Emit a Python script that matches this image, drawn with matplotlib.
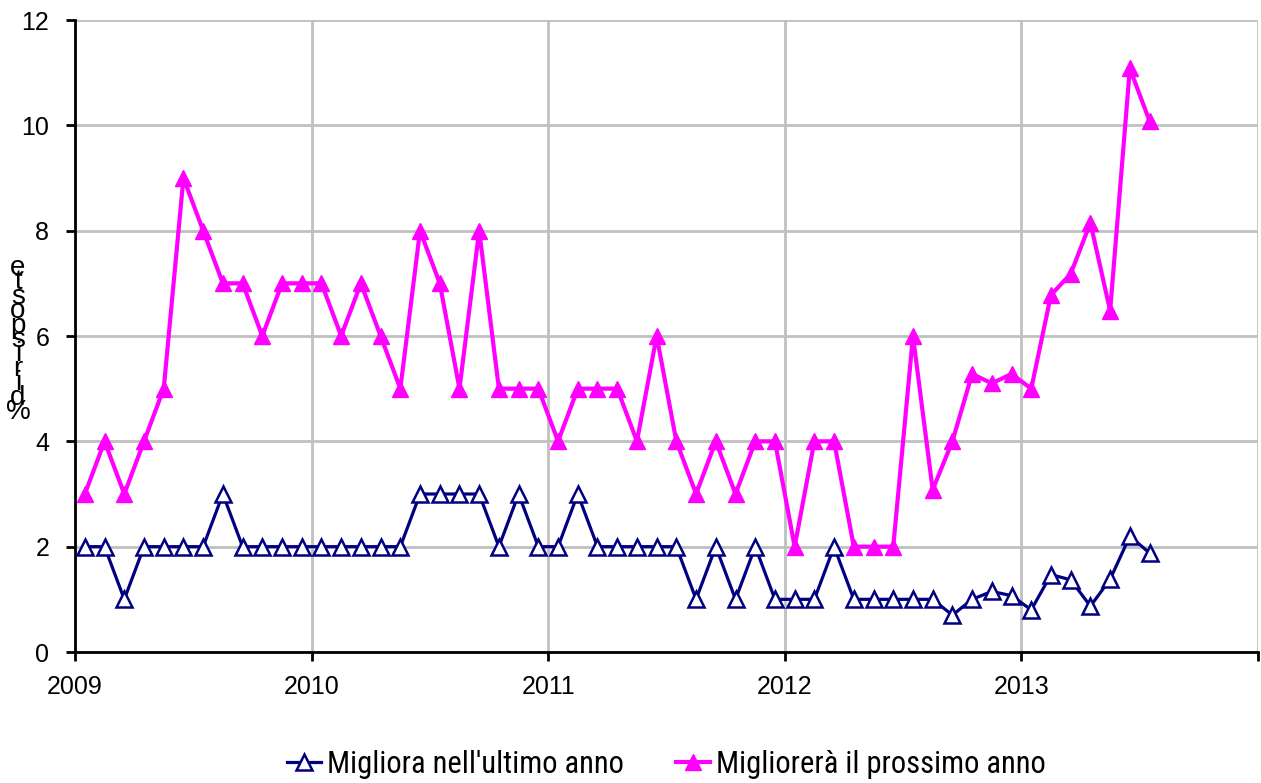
import matplotlib
matplotlib.use("Agg")
import matplotlib.pyplot as plt
import numpy as np
import pandas as pd

# monthly survey, Jan 2009 - Jul 2013
start_month = "2009-01"
n_months = 55

migliora_ultimo = [
    2, 2, 1, 2, 2, 2, 2, 3, 2, 2, 2, 2,
    2, 2, 2, 2, 2, 3, 3, 3, 3, 2, 3, 2,
    2, 3, 2, 2, 2, 2, 2, 1, 2, 1, 2, 1,
    1, 1, 2, 1, 1, 1, 1, 1, 0.7, 1.0, 1.15, 1.07,
    0.8, 1.47, 1.37, 0.87, 1.38, 2.2, 1.88,
]
migliorera_prossimo = [
    3, 4, 3, 4, 5, 9, 8, 7, 7, 6, 7, 7,
    7, 6, 7, 6, 5, 8, 7, 5, 8, 5, 5, 5,
    4, 5, 5, 5, 4, 6, 4, 3, 4, 3, 4, 4,
    2, 4, 4, 2, 2, 2, 6, 3.08, 4, 5.28, 5.1, 5.28,
    5.0, 6.78, 7.18, 8.15, 6.48, 11.08, 10.08,
]
year_ticks = [2009, 2010, 2011, 2012, 2013, 2014]
year_labels = ["2009", "2010", "2011", "2012", "2013", ""]

months = pd.period_range(start_month, periods=n_months, freq="M")
x = months.year + (months.month - 0.5) / 12.0

plt.rcParams["font.family"] = ["Liberation Sans", "DejaVu Sans"]

fig = plt.figure(figsize=(12.61, 7.83), dpi=100)
ax = fig.add_axes([75 / 1261, 1 - 652 / 783, (1258 - 75) / 1261, (652 - 20) / 783])

ax.plot(x, migliora_ultimo, color="#000080", lw=2.3, marker="^", ms=11,
        mfc="white", mec="#000080", mew=1.8, label="Migliora nell'ultimo anno", zorder=3)
ax.plot(x, migliorera_prossimo, color="#FF00FF", lw=3, marker="^", ms=11,
        mfc="#FF00FF", mec="#FF00FF", label="Migliorerà il prossimo anno", zorder=4)

ax.set_xlim(2009, 2014)
ax.set_ylim(0, 12)
ax.set_xticks(year_ticks)
ax.set_xticklabels(year_labels)
ax.set_yticks(range(0, 13, 2))
ax.grid(True, color="#c0c0c0", lw=2)
ax.set_axisbelow(True)
for s in ["top", "right"]:
    ax.spines[s].set_visible(False)
for s in ["left", "bottom"]:
    ax.spines[s].set_linewidth(2)
ax.tick_params(axis="both", labelsize=18, width=2, length=6.5, direction="out")
ax.tick_params(axis="x", pad=10)
ax.tick_params(axis="y", pad=12)

# stacked y label as in the original
fig.text(18 / 1261, 1 - 340 / 783, "e\nt\ns\no\np\ns\ni\nr\ni\nd\n%", ha="center", va="center",
         fontsize=20, linespacing=0.42)

ax.legend(loc="center", bbox_to_anchor=(0.5, -0.178), ncol=2, frameon=False,
          prop={"family": "Roboto Condensed", "size": 22},
          handlelength=1.1, handletextpad=0.2, columnspacing=1.7)

fig.savefig("out.png", dpi=100)
